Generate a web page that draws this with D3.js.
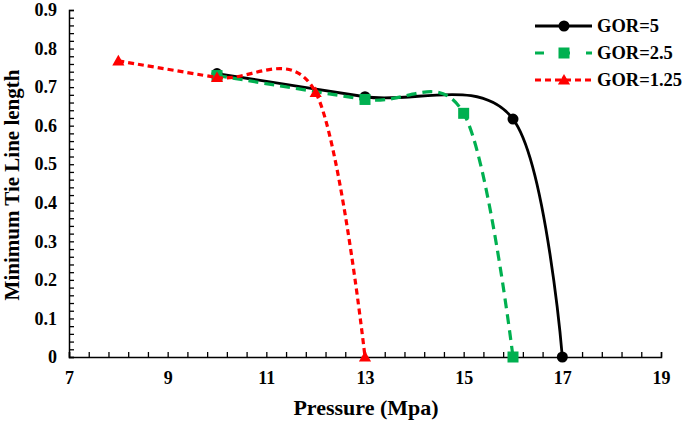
<!DOCTYPE html>
<html><head><meta charset="utf-8">
<script src="https://cdn.jsdelivr.net/npm/d3@7"></script>
<style>body{margin:0;background:#fff}svg{display:block}text{font-family:"Liberation Serif","Times New Roman",serif;font-weight:bold}</style>
</head><body><svg id="c" width="685" height="423"></svg>
<script>
const xTicks = [7, 9, 11, 13, 15, 17, 19];
const yTicks = [0, 0.1, 0.2, 0.3, 0.4, 0.5, 0.6, 0.7, 0.8, 0.9];
const seriesNames = ["GOR=5", "GOR=2.5", "GOR=1.25"];
const pressure5 = [10, 13, 16, 17];
const gor5 = [0.735, 0.675, 0.617, 0];
const pressure25 = [10, 13, 15, 16];
const gor25 = [0.73, 0.668, 0.632, 0];
const pressure125 = [8, 10, 12, 13];
const gor125 = [0.768, 0.725, 0.686, 0];

const svg = d3.select("#c");
const x = d3.scaleLinear().domain([7, 19]).range([69, 661]);
const y = d3.scaleLinear().domain([0, 0.9]).range([357, 10]);

// minor ticks
svg.append("g").attr("transform", "translate(0,357)")
  .call(d3.axisBottom(x).tickValues(d3.range(0, 31).map(i => 7 + i * 0.4)).tickSize(-5).tickFormat(""))
  .call(g => g.selectAll("line").attr("stroke", "#000").attr("stroke-width", 1.3))
  .call(g => g.select(".domain").attr("stroke", "#000").attr("stroke-width", 1.5));
svg.append("g").attr("transform", "translate(69,0)")
  .call(d3.axisLeft(y).tickValues(d3.range(0, 46).map(i => i * 0.02)).tickSize(-5).tickFormat(""))
  .call(g => g.selectAll("line").attr("stroke", "#000").attr("stroke-width", 1.3))
  .call(g => g.select(".domain").attr("stroke", "#000").attr("stroke-width", 1.5));
// labels
svg.append("g").attr("transform", "translate(0,357)")
  .call(d3.axisBottom(x).tickValues(xTicks).tickSize(0).tickPadding(14).tickFormat(d3.format("d")))
  .call(g => g.select(".domain").remove())
  .call(g => g.selectAll("text").attr("font-size", 18).attr("fill", "#000").style("font-family", "Liberation Serif").style("font-weight", "bold"));
svg.append("g").attr("transform", "translate(69,0)")
  .call(d3.axisLeft(y).tickValues(yTicks).tickSize(0).tickPadding(12).tickFormat(d => d === 0 ? "0" : d3.format(".1f")(d)))
  .call(g => g.select(".domain").remove())
  .call(g => g.selectAll("text").attr("font-size", 18).attr("fill", "#000").style("font-family", "Liberation Serif").style("font-weight", "bold"));

svg.append("text").attr("x", 366).attr("y", 415).attr("text-anchor", "middle").attr("font-size", 22).text("Pressure (Mpa)");
svg.append("text").attr("transform", "translate(19,185) rotate(-90)").attr("text-anchor", "middle").attr("font-size", 21).text("Minimum Tie Line length");

const series = [
  {name: seriesNames[0], xs: pressure5, ys: gor5, color: "#000", dash: null, w: 2.8, marker: "circle"},
  {name: seriesNames[1], xs: pressure25, ys: gor25, color: "#00b050", dash: "10,6", w: 3.2, marker: "square"},
  {name: seriesNames[2], xs: pressure125, ys: gor125, color: "#ff0000", dash: "6,4", w: 3.2, marker: "triangle"}
];
const line = d3.line().x(d => x(d[0])).y(d => y(d[1])).curve(d3.curveCardinal.tension(0));
function drawMarker(g, type, cx, cy, color) {
  if (type === "circle") g.append("circle").attr("cx", cx).attr("cy", cy).attr("r", 5.5).attr("fill", color);
  else if (type === "square") g.append("rect").attr("x", cx - 5.5).attr("y", cy - 5.5).attr("width", 11).attr("height", 11).attr("fill", color);
  else g.append("path").attr("d", d3.symbol().type(d3.symbolTriangle).size(64)()).attr("transform", `translate(${cx},${cy + 1})`).attr("fill", color);
}
series.forEach(s => {
  const pts = s.xs.map((v, i) => [v, s.ys[i]]);
  svg.append("path").datum(pts).attr("d", line).attr("fill", "none").attr("stroke", s.color)
    .attr("stroke-width", s.w).attr("stroke-dasharray", s.dash);
  const g = svg.append("g");
  pts.forEach(p => drawMarker(g, s.marker, x(p[0]), y(p[1]), s.color));
});
// legend
const lg = svg.append("g");
series.forEach((s, i) => {
  const yy = 26 + i * 27;
  lg.append("line").attr("x1", 535).attr("x2", 592).attr("y1", yy).attr("y2", yy).attr("stroke", s.color)
    .attr("stroke-width", s.w).attr("stroke-dasharray", s.dash ? (i === 1 ? "10,16" : "6,4") : null)
    .attr("stroke-dashoffset", i === 1 ? 1 : 0);
  drawMarker(lg, s.marker, 564, yy, s.color);
  lg.append("text").attr("x", 597).attr("y", yy + 6).attr("font-size", 18.5).text(s.name);
});
</script></body></html>
